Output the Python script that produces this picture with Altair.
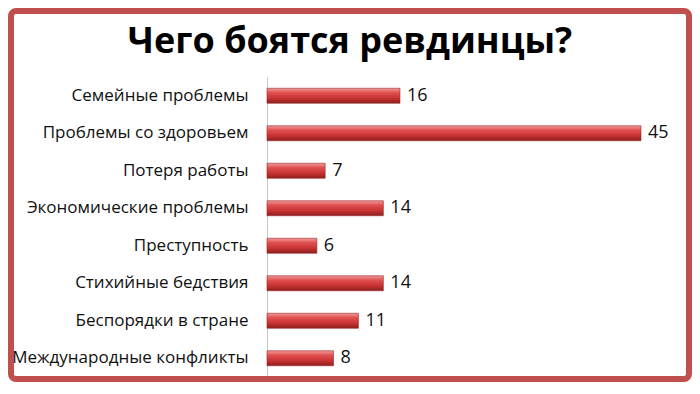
import altair as alt
import pandas as pd

categories = [
    "Семейные проблемы",
    "Проблемы со здоровьем",
    "Потеря работы",
    "Экономические проблемы",
    "Преступность",
    "Стихийные бедствия",
    "Беспорядки в стране",
    "Международные конфликты",
]
values = [16, 45, 7, 14, 6, 14, 11, 8]
title_text = "Чего боятся ревдинцы?"

df = pd.DataFrame({"cat": categories, "val": values})

PAD_L, PAD_T = 259, 69
W, H = 374, 300
TOTAL_W, TOTAL_H = 684, 374

y_enc = alt.Y("cat:N", sort=categories, title=None,
              scale=alt.Scale(paddingInner=0, paddingOuter=0),
              axis=alt.Axis(domainColor="#c8c8c8", domainWidth=1, ticks=False,
                            labelPadding=19, labelFontSize=17, labelFont="Open Sans",
                            labelColor="#111111", labelLimit=300))
x_enc = alt.X("val:Q", scale=alt.Scale(domain=[0, 45]), axis=None)

grad = alt.Gradient(
    gradient="linear", x1=0, y1=0, x2=0, y2=1,
    stops=[
        alt.GradientStop(color="#f19a9a", offset=0),
        alt.GradientStop(color="#e05050", offset=0.3),
        alt.GradientStop(color="#c93333", offset=0.65),
        alt.GradientStop(color="#8e1e1e", offset=1),
    ],
)

bars = alt.Chart(df).mark_bar(size=15, color=grad, stroke="#9a2626", strokeWidth=0.6).encode(
    x=x_enc, y=y_enc
)

labels = alt.Chart(df).mark_text(align="left", dx=7, fontSize=18, font="Open Sans",
                                 color="#111111").encode(
    x="val:Q", y=alt.Y("cat:N", sort=categories), text="val:Q"
)

one = pd.DataFrame({"t": [title_text]})

border = alt.Chart(one).mark_rect(
    fill=None, stroke="#c0504d", strokeWidth=6, cornerRadius=5
).encode(
    x=alt.value(-PAD_L + 3), x2=alt.value(TOTAL_W - PAD_L - 3),
    y=alt.value(-PAD_T + 3), y2=alt.value(TOTAL_H - PAD_T - 3),
)

title = alt.Chart(one).mark_text(
    fontSize=36, fontWeight="bold", font="Open Sans", color="#000000",
    align="center", baseline="alphabetic"
).encode(
    x=alt.value(342 - PAD_L), y=alt.value(45 - PAD_T), text="t:N"
)

chart = alt.layer(border, title, bars, labels).properties(
    width=W, height=H,
    background="white",
    autosize=alt.AutoSizeParams(type="none"),
    padding={"left": PAD_L, "top": PAD_T, "right": TOTAL_W - PAD_L - W,
             "bottom": TOTAL_H - PAD_T - H},
).configure_view(strokeWidth=0, stroke=None)

chart.save("out.html", embed_options={"renderer": "svg", "actions": False})
